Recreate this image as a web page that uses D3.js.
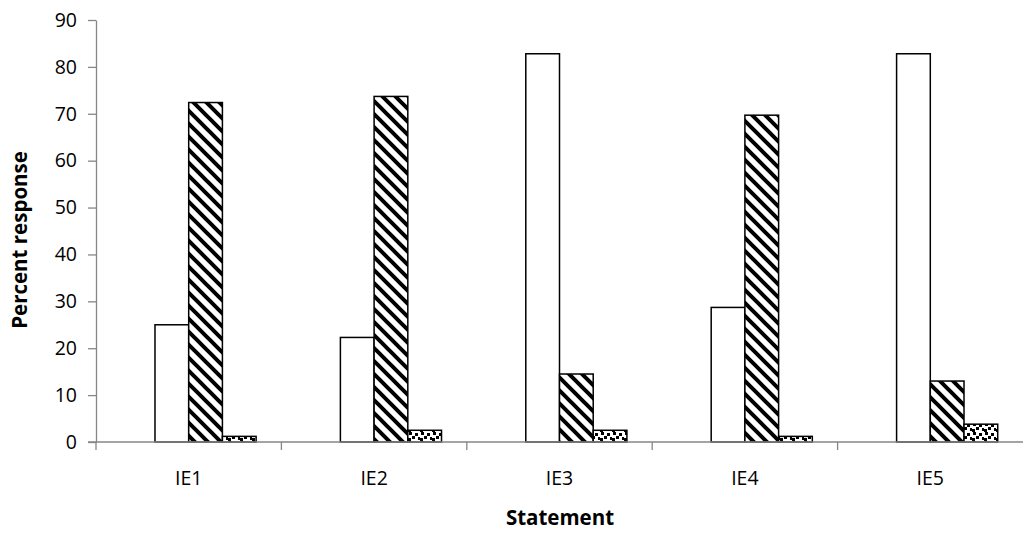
<!DOCTYPE html>
<html>
<head>
<meta charset="utf-8">
<script src="https://cdn.jsdelivr.net/npm/d3@7"></script>
<style>
  body { margin: 0; background: #fff; }
  text { font-family: "Open Sans", "Noto Sans", sans-serif; }
</style>
</head>
<body>
<div id="chart"></div>
<script>
// statements on the x axis
var statements = ["IE1", "IE2", "IE3", "IE4", "IE5"];
// four series slots (first one is empty in the original chart)
var slots = ["blank", "plain", "hatch", "dots"];
// percent response per series
var plainValues = [25.0, 22.3, 82.8, 28.7, 82.8];
var hatchValues = [72.4, 73.7, 14.5, 69.7, 13.0];
var dotsValues  = [1.2, 2.5, 2.5, 1.2, 3.8];
var yTicks = [0, 10, 20, 30, 40, 50, 60, 70, 80, 90];

var width = 1023, height = 533;
var margin = {top: 20, right: 0, bottom: 91, left: 96};

var svg = d3.select("#chart")
  .append("svg")
    .attr("width", width)
    .attr("height", height);

// patterns
var defs = svg.append("defs");
var hatch = defs.append("pattern")
  .attr("id", "hatch")
  .attr("patternUnits", "userSpaceOnUse")
  .attr("width", 13).attr("height", 13);
hatch.append("rect").attr("width", 13).attr("height", 13).attr("fill", "#fff");
hatch.append("path")
  .attr("d", "M-6.5,6.5 L6.5,19.5 M0,0 L13,13 M6.5,-6.5 L19.5,6.5")
  .attr("stroke", "#000")
  .attr("stroke-width", 4);

var dots = defs.append("pattern")
  .attr("id", "dots")
  .attr("patternUnits", "userSpaceOnUse")
  .attr("width", 12).attr("height", 9);
dots.append("rect").attr("width", 12).attr("height", 9).attr("fill", "#fff");
[[1, 0], [7, 1], [4, 4], [10, 5], [0, 6]].forEach(function (p) {
  dots.append("rect")
    .attr("x", p[0]).attr("y", p[1])
    .attr("width", 3).attr("height", 3)
    .attr("fill", "#000");
});

var x0 = d3.scaleBand()
  .domain(statements)
  .range([margin.left, width - margin.right])
  .paddingInner(0).paddingOuter(0);

// 4 bars per group + 150% gap
var x1 = d3.scaleBand()
  .domain(slots)
  .range([0, x0.bandwidth()])
  .paddingInner(0)
  .paddingOuter(0.75);

var y = d3.scaleLinear()
  .domain([0, 90])
  .range([height - margin.bottom, margin.top]);

var series = [
  {key: "plain", values: plainValues, fill: "#fff"},
  {key: "hatch", values: hatchValues, fill: "url(#hatch)"},
  {key: "dots",  values: dotsValues,  fill: "url(#dots)"}
];

series.forEach(function (s) {
  svg.append("g")
    .selectAll("rect")
    .data(s.values)
    .enter()
    .append("rect")
      .attr("x", (d, i) => x0(statements[i]) + x1(s.key))
      .attr("y", d => y(d))
      .attr("width", x1.bandwidth())
      .attr("height", d => y(0) - y(d))
      .attr("fill", s.fill)
      .attr("stroke", "#000")
      .attr("stroke-width", 1.5);
});

// y axis
var yAxis = svg.append("g")
  .attr("transform", "translate(" + margin.left + ",0)")
  .call(d3.axisLeft(y).tickValues(yTicks).tickSize(8).tickPadding(11).tickSizeOuter(0));
yAxis.select(".domain").attr("stroke", "#868686").attr("stroke-width", 1.3);
yAxis.selectAll(".tick line").attr("stroke", "#868686").attr("stroke-width", 1.3);
yAxis.selectAll("text")
  .attr("font-size", 19.5)
  .attr("fill", "#000")
  .attr("font-family", "Open Sans, Noto Sans, sans-serif");

// x axis, ticks between categories
var xAxis = svg.append("g")
  .attr("transform", "translate(0," + y(0) + ")");
xAxis.append("line")
  .attr("x1", margin.left - 8).attr("x2", width)
  .attr("y1", 0).attr("y2", 0)
  .attr("stroke", "#868686").attr("stroke-width", 1.3);
xAxis.selectAll(".sep")
  .data(statements)
  .enter()
  .append("line")
    .attr("x1", d => x0(d)).attr("x2", d => x0(d))
    .attr("y1", 0).attr("y2", 8)
    .attr("stroke", "#868686").attr("stroke-width", 1.3);
xAxis.selectAll(".lbl")
  .data(statements)
  .enter()
  .append("text")
    .attr("x", d => x0(d) + x0.bandwidth() / 2)
    .attr("y", 43)
    .attr("text-anchor", "middle")
    .attr("font-size", 19.5)
    .text(d => d);

// axis titles
svg.append("text")
  .attr("x", 560).attr("y", 525)
  .attr("text-anchor", "middle")
  .attr("font-size", 20.5)
  .attr("font-weight", "bold")
  .text("Statement");

svg.append("text")
  .attr("transform", "translate(27," + 240 + ") rotate(-90)")
  .attr("text-anchor", "middle")
  .attr("font-size", 20.5)
  .attr("font-weight", "bold")
  .text("Percent response");
</script>
</body>
</html>
